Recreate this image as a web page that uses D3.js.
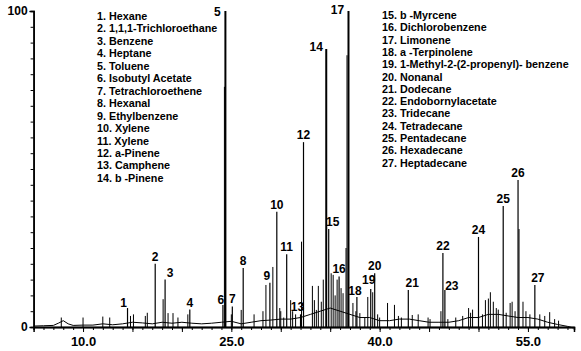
<!DOCTYPE html>
<html>
<head>
<meta charset="utf-8">
<script src="https://cdn.jsdelivr.net/npm/d3@7"></script>
<style>
  body { margin: 0; background: #fff; }
  text { font-family: "Liberation Sans", Arial, sans-serif; font-weight: bold; fill: #000; }
</style>
</head>
<body>
<div id="chart"></div>
<script>
// named compound peaks: number, retention time (min), relative abundance (%)
var peakNums  = [1, 2, 3, 4, 5, 6, 7, 8, 9, 10, 11, 12, 13, 14, 15, 16, 17, 18, 19, 20, 21, 22, 23, 24, 25, 26, 27];
var peakTimes = [14.5, 17.3, 18.3, 20.8, 24.4, 24.15, 25.1, 26.2, 28.9, 29.6, 30.6, 32.3, 32.0, 34.6, 34.85, 35.9, 36.85, 37.7, 39.1, 39.5, 42.9, 46.4, 46.6, 50.0, 52.5, 54.0, 55.7];
var peakVals  = [6, 20, 15, 5.5, 100, 7, 6.5, 18.7, 14, 36.5, 23, 58.5, 4, 88, 31, 16, 100, 9.5, 12, 17, 11.7, 23.4, 11.7, 28.5, 38.3, 46.5, 13.3];

var compounds = [
  "1. Hexane", "2. 1,1,1-Trichloroethane", "3. Benzene", "4. Heptane", "5. Toluene",
  "6. Isobutyl Acetate", "7. Tetrachloroethene", "8. Hexanal", "9. Ethylbenzene",
  "10. Xylene", "11. Xylene", "12. a-Pinene", "13. Camphene", "14. b -Pinene",
  "15. b -Myrcene", "16. Dichlorobenzene", "17. Limonene", "18. a -Terpinolene",
  "19. 1-Methyl-2-(2-propenyl)- benzene", "20. Nonanal", "21. Dodecane",
  "22. Endobornylacetate", "23. Tridecane", "24. Tetradecane", "25. Pentadecane",
  "26. Hexadecane", "27. Heptadecane"
];

// unlabelled minor peaks
var minorTimes = [7.8, 10.0, 12.0, 12.7, 14.8, 15.1, 16.3, 16.5, 18.1, 18.6, 19.1, 19.6, 20.6,
  24.3, 25.0, 26.0, 27.3, 28.2, 28.5, 29.2, 29.9, 30.0, 30.3, 31.0, 31.2, 31.5, 32.1,
  33.2, 33.4, 33.6, 33.8, 34.1, 34.3, 35.1, 35.3, 35.5, 35.7, 36.1, 36.3, 36.6, 36.7, 37.3, 37.6,
  38.0, 38.5, 38.8, 39.3, 39.8, 40.0, 40.8, 41.5, 41.9, 42.2, 43.3, 43.9, 44.9, 45.1, 46.2, 46.9,
  47.7, 48.4, 49.0, 49.2, 49.4, 50.4, 50.7, 51.0, 51.2, 51.5, 51.8, 52.0, 52.8, 53.2, 53.4, 53.7,
  54.1, 54.5, 54.8, 55.2, 56.2, 56.7, 57.2, 57.7, 58.1];
var minorVals  = [3, 3, 3.3, 3, 3.5, 4, 3.5, 4.5, 8.8, 4.4, 4.4, 3, 4,
  76, 4, 5.4, 4, 5, 13.3, 19, 6, 5, 3, 8.5, 5, 4, 27,
  13, 8.5, 5.4, 13, 8, 15, 17, 16.5, 10, 15, 12.3, 10.7, 25, 86, 7.6, 5,
  4.4, 3, 9.5, 11, 4, 3, 7.6, 7, 3.5, 3, 3.8, 4, 3, 2.5, 5, 2.5,
  3, 3.5, 6, 4.5, 5.5, 4, 8.5, 9, 11, 8, 6, 5.5, 4.5, 7.6, 8, 5,
  31, 8, 5, 4, 4, 3.5, 4.7, 2.5, 2];

// baseline drift / noise
var baseTimes = [5, 6, 7, 7.5, 8, 8.5, 9, 10, 11, 12, 13, 14, 15, 16, 17, 18, 19, 20, 21, 22, 23, 24,
  25, 26, 27, 28, 29, 30, 31, 32, 33, 34, 35, 36, 37, 38, 39, 40, 41, 42, 43, 44, 45, 46,
  47, 48, 49, 50, 51, 52, 53, 54, 55, 56, 57, 58, 59, 59.6];
var baseVals  = [0.3, 0.4, 0.5, 1.2, 2, 1, 0.5, 0.6, 0.6, 1, 0.7, 1, 1.5, 1.3, 1, 1.5, 1.2, 1.5, 1.2, 1, 1.2, 1.5,
  1.8, 1, 1.5, 2, 2.2, 2.5, 2.5, 3, 4, 5, 6, 5, 4, 3, 3, 2, 2, 2.5, 2.5, 2, 1.5, 1.5,
  1.5, 2, 3, 3, 4, 4, 3.5, 3, 3, 2.5, 1.5, 0.8, 0.2, -0.3];

var xLabelTicks = [10, 25, 40, 55];
var yLabelTicks = [0, 100];

var width = 581, height = 351;

var svg = d3.select("#chart").append("svg")
  .attr("width", width)
  .attr("height", height);

var x = d3.scaleLinear().domain([5, 59.66]).range([33.6, 574]);
var y = d3.scaleLinear().domain([0, 100]).range([327, 11]);

// baseline trace
var baseLine = d3.line()
  .x(function (d, i) { return x(baseTimes[i]); })
  .y(function (d) { return y(d); });
svg.append("path")
  .attr("d", baseLine(baseVals))
  .attr("fill", "none")
  .attr("stroke", "#000")
  .attr("stroke-width", 1);

// minor peaks as sticks
svg.selectAll("line.minor")
  .data(minorVals)
  .enter()
  .append("line")
  .attr("class", "minor")
  .attr("x1", function (d, i) { return x(minorTimes[i]); })
  .attr("x2", function (d, i) { return x(minorTimes[i]); })
  .attr("y1", y(0))
  .attr("y2", function (d) { return y(d); })
  .attr("stroke", "#000")
  .attr("stroke-width", 1);

// named peaks
svg.selectAll("line.peak")
  .data(peakVals)
  .enter()
  .append("line")
  .attr("class", "peak")
  .attr("x1", function (d, i) { return x(peakTimes[i]); })
  .attr("x2", function (d, i) { return x(peakTimes[i]); })
  .attr("y1", y(0))
  .attr("y2", function (d) { return y(d); })
  .attr("stroke", "#000")
  .attr("stroke-width", function (d) { return d > 80 ? 2 : 1.2; });

// peak number labels; default sits above the peak top
var labelShift = {
  1: [-4, 2], 3: [5, 0], 5: [-8, 8], 6: [-2, 2], 9: [-3, 0], 13: [-3, 0],
  14: [-10, 5], 15: [4, 0], 17: [-11, 6], 18: [-2, 1], 19: [-2, -2], 21: [4, 0], 23: [7, 3], 27: [3, 0]
};
svg.selectAll("text.pk")
  .data(peakNums)
  .enter()
  .append("text")
  .attr("class", "pk")
  .attr("x", function (d, i) { return x(peakTimes[i]) + (labelShift[d] ? labelShift[d][0] : 0); })
  .attr("y", function (d, i) { return y(peakVals[i]) - 7 + (labelShift[d] ? labelShift[d][1] : 0); })
  .attr("text-anchor", "middle")
  .attr("dominant-baseline", "central")
  .style("font-size", "12px")
  .text(function (d) { return d; });

// legend (two columns)
var legend = svg.append("g").style("font-size", "11px");
legend.selectAll("text.l1")
  .data(compounds.slice(0, 14))
  .enter()
  .append("text")
  .attr("transform", function (d, i) { return "translate(97," + (16 + i * 12.45) + ") scale(0.98,1)"; })
  .attr("dominant-baseline", "central")
  .text(function (d) { return d; });
legend.selectAll("text.l2")
  .data(compounds.slice(14))
  .enter()
  .append("text")
  .attr("transform", function (d, i) { return "translate(382," + (15 + i * 12.3) + ") scale(0.98,1)"; })
  .attr("dominant-baseline", "central")
  .text(function (d) { return d; });

// x axis: minor ticks each minute, longer every 5, labels every 15
var xMinor = d3.axisBottom(x).tickValues(d3.range(6, 60, 1)).tickSize(3).tickFormat("");
var xMajor = d3.axisBottom(x).tickValues(d3.range(10, 60, 5)).tickSize(5).tickFormat("");
var xLab = d3.axisBottom(x).tickValues(xLabelTicks).tickSize(0).tickPadding(10).tickFormat(d3.format(".1f"));

[xMinor, xMajor, xLab].forEach(function (ax) {
  var g = svg.append("g").attr("transform", "translate(0," + y(0) + ")").call(ax);
  g.select(".domain").attr("stroke", "#000").attr("stroke-width", 1.5);
  g.selectAll("line").attr("stroke", "#000");
  g.selectAll("text").style("font-size", "13px").style("font-family", "Liberation Sans, Arial, sans-serif").style("font-weight", "bold");
});

// y axis
var yMinor = d3.axisLeft(y).tickValues(d3.range(0, 101, 5)).tickSize(3).tickFormat("");
var yLab = d3.axisLeft(y).tickValues(yLabelTicks).tickSize(4).tickPadding(2);
[yMinor, yLab].forEach(function (ax) {
  var g = svg.append("g").attr("transform", "translate(" + x(5) + ",0)").call(ax);
  g.select(".domain").attr("stroke", "#000").attr("stroke-width", 1.5);
  g.selectAll("line").attr("stroke", "#000");
  g.selectAll("text").style("font-size", "12px").style("font-family", "Liberation Sans, Arial, sans-serif").style("font-weight", "bold");
});
</script>
</body>
</html>
